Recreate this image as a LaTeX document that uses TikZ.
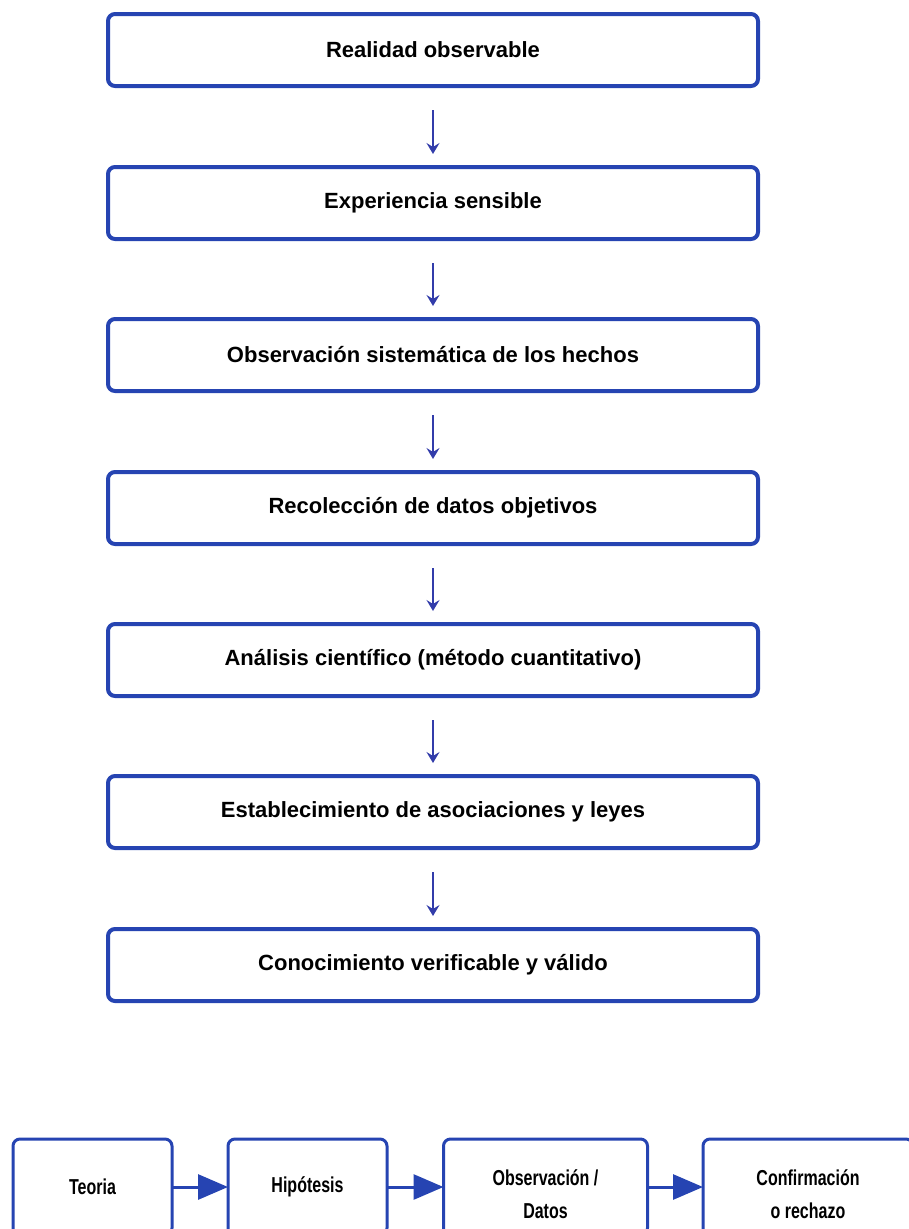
\documentclass[tikz,border=0pt]{standalone}
\usepackage{fontspec}
\setmainfont{Liberation Sans}
\usetikzlibrary{arrows.meta}
\definecolor{boxblue}{RGB}{38,68,178}
\definecolor{arrblue}{RGB}{50,60,170}
\newcommand{\tallt}[1]{\scalebox{1}[1.35]{#1}}
\begin{document}
\begin{tikzpicture}[x=1pt,y=-1pt,
  stepbox/.style={draw=boxblue,line width=4pt,rounded corners=7pt,fill=white,
    minimum width=650pt,minimum height=72pt,outer sep=0pt,inner sep=0pt,
    font=\bfseries\fontsize{22}{26}\selectfont},
  smallbox/.style={draw=boxblue,line width=3pt,rounded corners=7pt,fill=white,
    minimum height=96pt,outer sep=0pt,inner sep=0pt},
  smalltext/.style={align=center,inner sep=0pt,
    font=\bfseries\fontsize{16}{33}\selectfont},
  downarr/.style={draw=arrblue,line width=1.4pt,-{Stealth[length=11pt,width=13pt,inset=4pt]},
    shorten <=24pt,shorten >=13pt},
  rightarr/.style={draw=boxblue,line width=3pt,-{Triangle[length=30pt,width=25pt]}}]
\useasboundingbox (0,0) rectangle (909,1229);
\node[stepbox] (b1) at (433,50) {Realidad observable};
\node[stepbox] (b2) at (433,203) {Experiencia sensible};
\node[stepbox] (b3) at (433,355) {Observación sistemática de los hechos};
\node[stepbox] (b4) at (433,508) {Recolección de datos objetivos};
\node[stepbox] (b5) at (433,660) {Análisis científico (método cuantitativo)};
\node[stepbox] (b6) at (433,812) {Establecimiento de asociaciones y leyes};
\node[stepbox] (b7) at (433,965) {Conocimiento verificable y válido};
\foreach \a/\b in {b1/b2,b2/b3,b3/b4,b4/b5,b5/b6,b6/b7}
  \draw[downarr] (\a.south) -- (\b.north);
\node[smallbox,minimum width=159pt] (t1) at (92.5,1187) {};
\node[smallbox,minimum width=159pt] (t2) at (307.5,1187) {};
\node[smallbox,minimum width=204pt] (t3) at (545.5,1187) {};
\node[smallbox,minimum width=210pt] (t4) at (808,1187) {};
\node[smalltext] (t1txt) at (t1.center) {\tallt{Teoria}};
\node[smalltext] (t2txt) at (t2.center) {\tallt{Hipótesis}};
\node[smalltext] (t3txt) at ([yshift=-7pt]t3.center) {\tallt{Observación /}\\\tallt{Datos}};
\node[smalltext] (t4txt) at ([yshift=-7pt]t4.center) {\tallt{Confirmación}\\\tallt{o rechazo}};
\draw[rightarr] (t1.east) -- (t2.west);
\draw[rightarr] (t2.east) -- (t3.west);
\draw[rightarr] (t3.east) -- (t4.west);
\end{tikzpicture}
\end{document}
